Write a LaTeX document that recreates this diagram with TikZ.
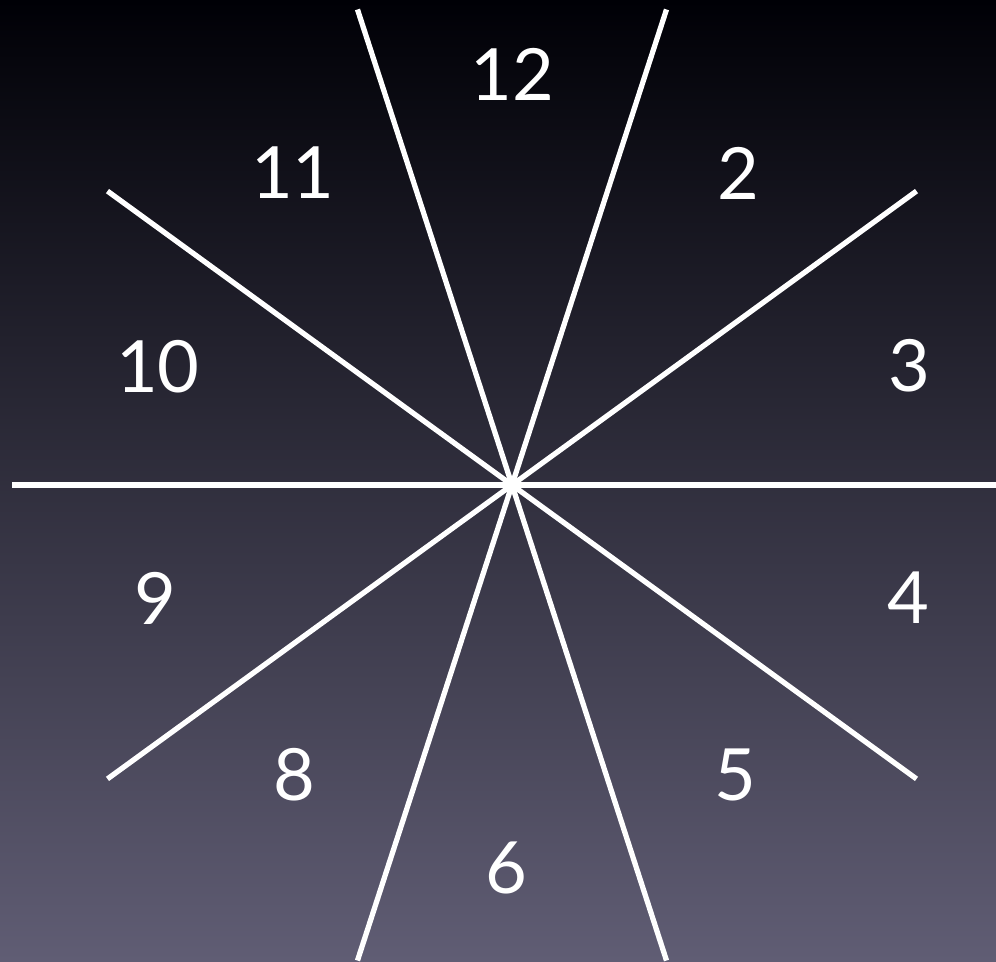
\documentclass[tikz,border=0pt]{standalone}
\usepackage{fontspec}
\setmainfont{Lato}
\definecolor{skytop}{RGB}{0,0,6}
\definecolor{skymid}{RGB}{36,35,66}
\definecolor{skybot}{RGB}{96,93,116}
\begin{document}
\begin{tikzpicture}
	\tikzstyle{spoke}=[white,line width=3pt]
	\tikzstyle{hour}=[text=white,inner sep=0pt,font=\fontsize{41}{49}\selectfont]

	\shade[top color=skytop,middle color=skymid,bottom color=skybot] (-10.24,-9.52) rectangle (9.68,9.70);
	\useasboundingbox (-10.24,-9.52) rectangle (9.68,9.70);
	\clip (-10.24,-9.52) rectangle (9.68,9.70);

	\coordinate (O) at (0,0);
	\coordinate (E0) at (0:10);
	\coordinate (E36) at (36:10);
	\coordinate (E72) at (72:10);
	\coordinate (E108) at (108:10);
	\coordinate (E144) at (144:10);
	\coordinate (E180) at (180:10);
	\coordinate (E216) at (216:10);
	\coordinate (E252) at (252:10);
	\coordinate (E288) at (288:10);
	\coordinate (E324) at (324:10);

	\draw[spoke] (E0) -- (E180);
	\draw[spoke] (E36) -- (E216);
	\draw[spoke] (E72) -- (E252);
	\draw[spoke] (E108) -- (E288);
	\draw[spoke] (E144) -- (E324);

	\node[hour] (h12) at (0,8.22) {12};
	\node[hour] (h11) at (-4.38,6.24) {11};
	\node[hour] (h2) at (4.52,6.24) {2};
	\node[hour] (h10) at (-7.08,2.36) {10};
	\node[hour] (h3) at (7.94,2.38) {3};
	\node[hour] (h9) at (-7.14,-2.26) {9};
	\node[hour] (h4) at (7.92,-2.26) {4};
	\node[hour] (h8) at (-4.36,-5.80) {8};
	\node[hour] (h5) at (4.46,-5.80) {5};
	\node[hour] (h6) at (-0.12,-7.66) {6};
\end{tikzpicture}
\end{document}
